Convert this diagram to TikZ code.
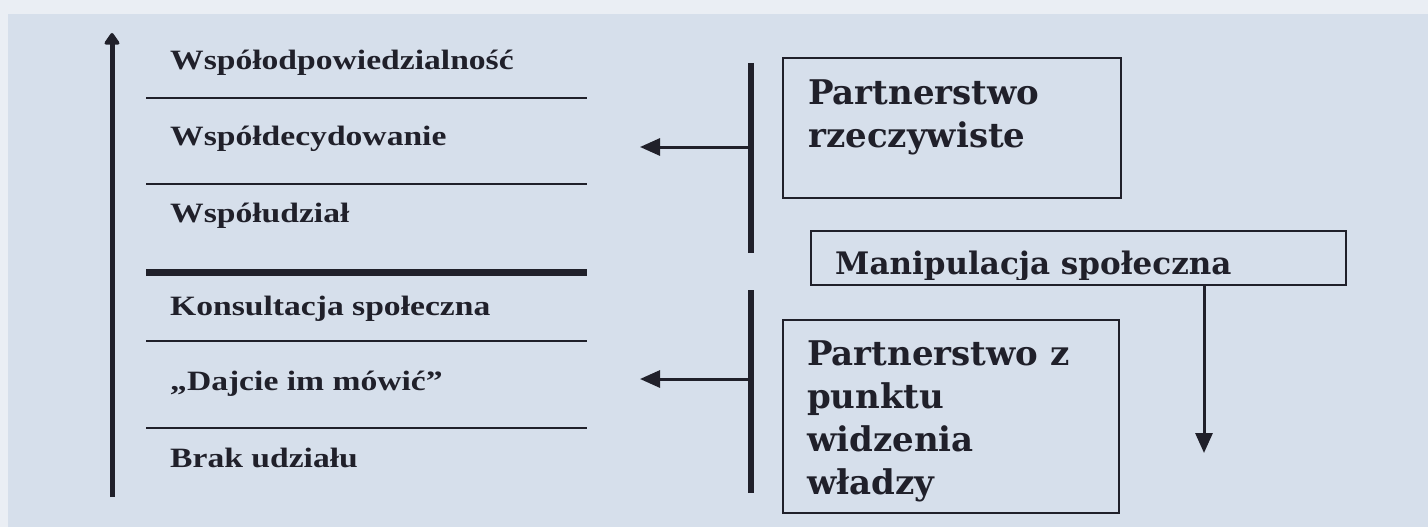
\documentclass[tikz,border=0pt]{standalone}
\usepackage{fontspec}
\newfontfamily\lfont[FakeStretch=1.2]{Liberation Serif}
\newfontfamily\rfont{DejaVu Serif}
\usetikzlibrary{arrows.meta}
\definecolor{bg}{RGB}{214,223,235}
\definecolor{bgtop}{RGB}{234,238,244}
\definecolor{ink}{RGB}{32,32,42}
\begin{document}
\begin{tikzpicture}[x=1pt,y=-1pt,
  ltext/.style={anchor=base west,inner sep=0,font=\lfont\bfseries\fontsize{28}{30}\selectfont,text=ink},
  rtext/.style={anchor=base west,inner sep=0,font=\rfont\bfseries\fontsize{34}{43}\selectfont,text=ink},
  rbox/.style={draw=ink,line width=1.6pt,anchor=north west,inner sep=0,minimum width=#1},
  sep/.style={draw=ink,line width=2.4pt},
  bar/.style={draw=ink,line width=6pt},
  harrow/.style={draw=ink,line width=3pt,-{Triangle[length=20pt,width=17pt]}},
  varrow/.style={draw=ink,line width=3pt,-{Triangle[length=20pt,width=17pt]}}
]
\fill[bgtop] (0,0) rectangle (1428,527);
\fill[bg] (8,14) rectangle (1428,527);
\useasboundingbox (0,0) rectangle (1428,527);

% left axis arrow
\coordinate (axb) at (112,497);
\coordinate (axt) at (112,33);
\draw[draw=ink,line width=5pt,-{Triangle[length=13pt,width=17pt,round]}] (axb) -- (axt);

% separators
\draw[sep] (146,98) -- (587,98);
\draw[sep] (146,184) -- (587,184);
\draw[draw=ink,line width=7pt] (146,272) -- (587,272);
\draw[sep] (146,341) -- (587,341);
\draw[sep] (146,428) -- (587,428);

% left labels
\node[ltext] (t1) at (170,70) {Współodpowiedzialność};
\node[ltext] (t2) at (170,145) {Współdecydowanie};
\node[ltext] (t3) at (170,222) {Współudział};
\node[ltext] (t4) at (170,315) {Konsultacja społeczna};
\node[ltext] (t5) at (170,390) {„Dajcie im mówić”};
\node[ltext] (t6) at (170,467) {Brak udziału};

% bars
\coordinate (b1t) at (751,63);
\coordinate (b1b) at (751,253);
\coordinate (b2t) at (751,290);
\coordinate (b2b) at (751,493);
\draw[bar] (b1t) -- (b1b);
\draw[bar] (b2t) -- (b2b);

% arrows to left
\coordinate (a1) at (640,147);
\coordinate (a2) at (640,379);
\draw[harrow] (b1t |- a1) -- (a1);
\draw[harrow] (b2t |- a2) -- (a2);

% box 1
\node[rbox=338pt,minimum height=140pt] (box1) at (782,57) {};
\node[rtext] (r1a) at (808,104) {Partnerstwo};
\node[rtext] (r1b) at (808,147) {rzeczywiste};

% manipulation box
\node[rbox=535pt,minimum height=54pt] (mbox) at (810,230) {};
\begin{scope}
  \clip (812,232) rectangle (1343,279);
  \node[rtext,font=\rfont\bfseries\fontsize{31}{34}\selectfont] (mt) at (835,274) {Manipulacja społeczna};
\end{scope}

% box 2
\node[rbox=336pt,minimum height=193pt] (box2) at (782,319) {};
\node[rtext] (r2a) at (807,365) {Partnerstwo z};
\node[rtext] (r2b) at (807,408) {punktu};
\node[rtext] (r2c) at (807,451) {widzenia};
\node[rtext] (r2d) at (807,494) {władzy};

% down arrow
\coordinate (dend) at (1204,453);
\draw[varrow] (mbox.south -| dend) -- (dend);
\end{tikzpicture}
\end{document}
